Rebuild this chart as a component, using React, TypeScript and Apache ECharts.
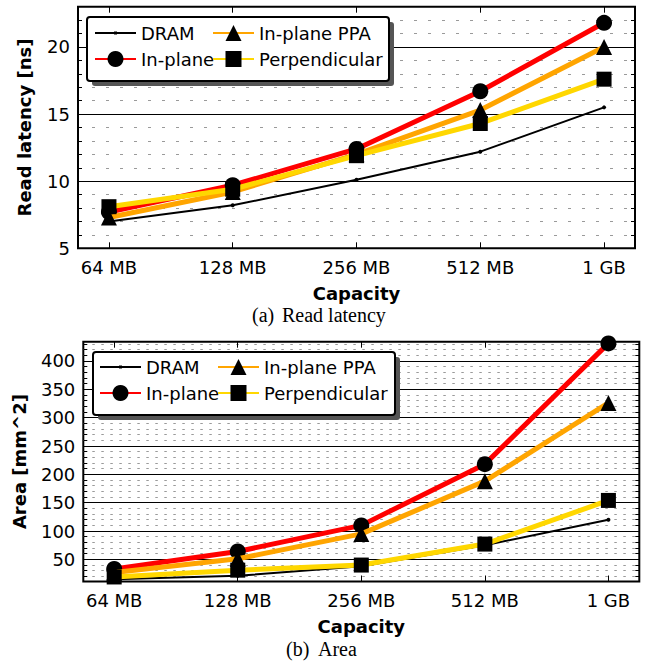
import React, { useEffect, useRef } from 'react';
import * as echarts from 'echarts';

// ---------- data ----------
const categories = ['64 MB', '128 MB', '256 MB', '512 MB', '1 GB'];
const seriesNames = ['DRAM', 'In-plane', 'In-plane PPA', 'Perpendicular'];

const latencyDRAM = [7.0, 8.2, 10.1, 12.2, 15.5];
const latencyInPlane = [7.7, 9.7, 12.4, 16.7, 21.8];
const latencyInPlanePPA = [7.3, 9.2, 12.0, 15.3, 20.0];
const latencyPerpendicular = [8.1, 9.4, 11.9, 14.3, 17.6];

const areaDRAM = [15, 21, 38, 75, 120];
const areaInPlane = [33, 64, 110, 218, 431];
const areaInPlanePPA = [27, 51, 95, 188, 326];
const areaPerpendicular = [19, 31, 40, 77, 154];

const latencyTickStep = 5;
const areaTickStep = 50;

// ---------- style ----------
const FONT = 'DejaVu Sans';
const SERIF = 'Liberation Serif';
const COLORS = ['#000000', '#ff0000', '#ffa500', '#ffd700'];
const SYMBOLS = ['circle', 'circle', 'triangle', 'rect'];
const SYMBOL_SIZES = [4, 16, 16, 15];
const LINE_WIDTHS = [2, 5, 5, 5];
const DRAM_ICON = 'path://M0,9.1 L41,9.1 L41,10.9 L0,10.9 Z M19,8.5 L22,8.5 L22,11.5 L19,11.5 Z';

const pairs = (vals: number[]) => vals.map((v, i) => [i, v]);

function makeSeries(gridIdx: number, sets: number[][]) {
  return sets.map((vals, k) => ({
    type: 'line',
    name: seriesNames[k],
    xAxisIndex: gridIdx * 2,
    yAxisIndex: gridIdx * 2,
    data: pairs(vals),
    symbol: SYMBOLS[k],
    symbolSize: SYMBOL_SIZES[k],
    showSymbol: true,
    showAllSymbol: true,
    clip: false,
    z: 2 + k,
    lineStyle: { color: COLORS[k], width: LINE_WIDTHS[k] },
    itemStyle: { color: '#000000', borderWidth: 0 },
    emphasis: { disabled: true },
  }));
}

function xAxes(gridIdx: number, nameGap: number) {
  const base = {
    type: 'value',
    gridIndex: gridIdx,
    min: -0.25,
    max: 4.25,
    splitNumber: 5,
    minInterval: 1,
    maxInterval: 1,
    axisLine: { show: false, onZero: false },
    axisTick: { show: true, inside: true, length: 6, lineStyle: { color: '#000', width: 1 } },
    splitLine: { show: false },
  };
  return [
    {
      ...base,
      position: 'bottom',
      axisLabel: {
        show: true,
        margin: 10,
        color: '#000',
        fontFamily: FONT,
        fontSize: 18,
        formatter: (v: number) => (Number.isInteger(v) && v >= 0 && v < categories.length ? categories[v] : ''),
      },
      name: 'Capacity',
      nameLocation: 'middle',
      nameGap,
      nameTextStyle: { color: '#000', fontFamily: FONT, fontSize: 18, fontWeight: 'bold', lineHeight: 18 },
    },
    { ...base, position: 'top', axisLabel: { show: false } },
  ];
}

function yAxes(gridIdx: number, cfg: any) {
  const base = {
    type: 'value',
    gridIndex: gridIdx,
    min: cfg.min,
    max: cfg.max,
    ...cfg.scale,
    axisLine: { show: false, onZero: false },
    axisTick: { show: true, inside: true, length: 7, lineStyle: { color: '#000', width: 1 } },
    minorTick: { show: true, splitNumber: 5, length: 4, lineStyle: { color: '#000', width: 1 } },
  };
  return [
    {
      ...base,
      position: 'left',
      splitLine: { show: true, lineStyle: { color: '#000', width: 1 } },
      minorSplitLine: { show: true, lineStyle: { color: '#9a9a9a', width: 1, type: cfg.dash } },
      axisLabel: {
        show: true,
        margin: 8,
        color: '#000',
        fontFamily: FONT,
        fontSize: 18,
        formatter: (v: number) => (v % cfg.step === 0 ? String(v) : ''),
      },
      name: cfg.name,
      nameLocation: 'middle',
      nameGap: cfg.nameGap,
      nameTextStyle: { color: '#000', fontFamily: FONT, fontSize: 18, fontWeight: 'bold' },
    },
    {
      ...base,
      position: 'right',
      splitLine: { show: false },
      minorSplitLine: { show: false },
      axisLabel: { show: false },
    },
  ];
}

function legends(left1: number, left2: number, top: number) {
  const common = {
    orient: 'vertical',
    top,
    itemWidth: 41,
    itemHeight: 20,
    itemGap: 8,
    padding: 0,
    z: 20,
    selectedMode: false,
    textStyle: { color: '#000', fontFamily: FONT, fontSize: 18 },
  };
  return [
    {
      ...common,
      left: left1,
      data: [{ name: seriesNames[0], icon: DRAM_ICON, itemStyle: { color: '#000', borderWidth: 0 } }, seriesNames[1]],
    },
    { ...common, left: left2, data: [seriesNames[2], seriesNames[3]] },
  ];
}

function legendBox(x: number, y: number, w: number, h: number) {
  return [
    { type: 'rect', z: 15, shape: { x: x + 5, y: y + 5, width: w, height: h, r: 3 }, style: { fill: '#555555' } },
    { type: 'rect', z: 16, shape: { x, y, width: w, height: h, r: 3 }, style: { fill: '#ffffff', stroke: '#000', lineWidth: 2 } },
  ];
}

function caption(xLabel: number, xText: number, y: number, label: string, text: string) {
  const style = { fill: '#000', fontFamily: SERIF, fontSize: 20, lineHeight: 14, textVerticalAlign: 'middle', verticalAlign: 'middle' };
  return [
    { type: 'text', z: 20, x: xLabel, y, style: { ...style, text: label, textAlign: 'left', align: 'left' } },
    { type: 'text', z: 20, x: xText, y, style: { ...style, text, textAlign: 'left', align: 'left' } },
  ];
}

export default function App() {
  const ref = useRef<HTMLDivElement>(null);

  useEffect(() => {
    if (!ref.current) return;
    const chart = echarts.init(ref.current, null, { renderer: 'svg' });

    const option: any = {
      animation: false,
      backgroundColor: '#ffffff',
      grid: [
        { left: 78, top: 6.7, width: 557, height: 241.6, show: true, borderColor: '#000', borderWidth: 2, backgroundColor: 'transparent', containLabel: false, outerBoundsMode: 'none' },
        { left: 83.3, top: 341.7, width: 556, height: 239.8, show: true, borderColor: '#000', borderWidth: 2, backgroundColor: 'transparent', containLabel: false, outerBoundsMode: 'none' },
      ],
      xAxis: [...xAxes(0, 36), ...xAxes(1, 36)],
      yAxis: [
        ...yAxes(0, {
          min: 5, max: 23, scale: { interval: latencyTickStep }, step: latencyTickStep,
          dash: [3, 11], name: 'Read latency [ns]', nameGap: 45,
        }),
        ...yAxes(1, {
          min: 11, max: 434, scale: { splitNumber: 8, minInterval: areaTickStep, maxInterval: areaTickStep }, step: areaTickStep,
          dash: [2.5, 6.5], name: 'Area [mm^2]', nameGap: 55,
        }),
      ],
      legend: [...legends(94, 212, 24), ...legends(99, 217, 358)],
      graphic: [
        ...legendBox(87, 17, 302, 64),
        ...legendBox(93, 352, 302, 63),
        ...caption(252, 282, 315, '(a)', 'Read latency'),
        ...caption(286, 318, 649, '(b)', 'Area'),
      ],
      series: [
        ...makeSeries(0, [latencyDRAM, latencyInPlane, latencyInPlanePPA, latencyPerpendicular]),
        ...makeSeries(1, [areaDRAM, areaInPlane, areaInPlanePPA, areaPerpendicular]),
      ],
    };

    chart.setOption(option);
    return () => chart.dispose();
  }, []);

  return <div ref={ref} style={{ position: 'absolute', left: 0, top: 0, width: 646, height: 662 }} />;
}
